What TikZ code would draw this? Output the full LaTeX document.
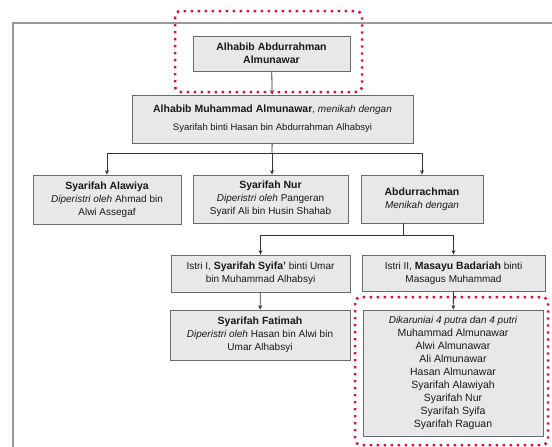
\documentclass[tikz,border=0pt]{standalone}
\usepackage{fontspec}
\setmainfont{Liberation Sans}
\usepackage{tikz}
\usetikzlibrary{arrows.meta}
\definecolor{isikotak}{HTML}{E8E8E8}
\definecolor{tepikotak}{HTML}{6A6A6A}
\definecolor{merah}{HTML}{D2143A}
\newcommand{\nama}[1]{{\fontsize{10.5pt}{13pt}\selectfont\bfseries #1}}
\newcommand{\ket}[1]{{\itshape #1}}
\newcommand{\anakku}[1]{{\fontsize{10.5pt}{12.8pt}\selectfont #1}}

\begin{document}
\begin{tikzpicture}[x=1pt,y=-1pt,->,>={Stealth[length=4.5pt,width=4pt]},
    color=black!80,line width=0.8pt,
    kotak/.style={draw=tepikotak,fill=isikotak,text=black!90,align=center,
      inner sep=0pt,font=\fontsize{10pt}{13pt}\selectfont},
    sorot/.style={-,draw=merah,line width=2.5pt,
      dash pattern=on 2.4pt off 4.6pt,rounded corners=6pt},
    bingkai/.style={-,draw=black!40,line width=1.4pt}]
      \useasboundingbox (0,0) rectangle (552,447);
      \draw[bingkai] (13,447) -- (13,23) -- (552,23);
      % generasi pertama dan kedua
      \node[kotak,minimum width=157,minimum height=35] (kakek) at (271.5,53.5)
        {\nama{Alhabib Abdurrahman}\\ \nama{Almunawar}};
      \node[kotak,minimum width=281,minimum height=48] (ayah) at (272.5,119)
        {\nama{Alhabib Muhammad Almunawar}, \ket{menikah dengan}\\[5pt]
         {\fontsize{9.5pt}{12pt}\selectfont Syarifah binti Hasan bin Abdurrahman Alhabsyi}};
      % anak-anak
      \node[kotak,minimum width=148,minimum height=49] (alawiya) at (107,199.5)
        {\nama{Syarifah Alawiya}\\ \ket{Diperistri oleh} Ahmad bin\\ Alwi Assegaf};
      \node[kotak,minimum width=155,minimum height=48] (nur) at (270.5,199)
        {\nama{Syarifah Nur}\\ \ket{Diperistri oleh} Pangeran\\ Syarif Ali bin Husin Shahab};
      \node[kotak,minimum width=122,minimum height=48] (abdur) at (422,199)
        {\nama{Abdurrachman}\\ \ket{Menikah dengan}};
      % istri
      \node[kotak,minimum width=179,minimum height=37] (istri1) at (260.5,273.5)
        {Istri I, \nama{Syarifah Syifa'} binti Umar\\ bin Muhammad Alhabsyi};
      \node[kotak,minimum width=183,minimum height=36] (istri2) at (453.5,273)
        {Istri II, \nama{Masayu Badariah} binti\\ Masagus Muhammad};
      % cucu
      \node[kotak,minimum width=180,minimum height=50] (fatimah) at (260,335)
        {\nama{Syarifah Fatimah}\\ \ket{Diperistri oleh} Hasan bin Alwi bin\\ Umar Alhabsyi};
      \node[kotak,minimum width=180,minimum height=126] (anak) at (453,373)
        {\ket{Dikaruniai 4 putra dan 4 putri}\\ \anakku{Muhammad Almunawar}\\
         \anakku{Alwi Almunawar}\\ \anakku{Ali Almunawar}\\ \anakku{Hasan Almunawar}\\
         \anakku{Syarifah Alawiyah}\\ \anakku{Syarifah Nur}\\ \anakku{Syarifah Syifa}\\
         \anakku{Syarifah Raguan}};
      \coordinate (cabang1) at (272,153);
      \coordinate (cabang2) at (403,235);
      % garis ke bawah
      \draw (kakek) -- (ayah);
      \draw[-] (ayah) -- (cabang1);
      \draw (cabang1) -| (alawiya);
      \draw (cabang1) -- (cabang1 |- nur.north);
      \draw (cabang1) -| (abdur);
      \draw[-] (abdur.south -| cabang2) -- (cabang2);
      \draw (cabang2) -| (istri1);
      \draw (cabang2) -| (istri2);
      \draw (istri1) -- (fatimah);
      \draw (istri2) -- (anak);
      % sorotan merah
      \draw[sorot] (175,11) rectangle (362,92);
      \draw[sorot] (355,297) rectangle (548,445);
    \end{tikzpicture}
\end{document}
